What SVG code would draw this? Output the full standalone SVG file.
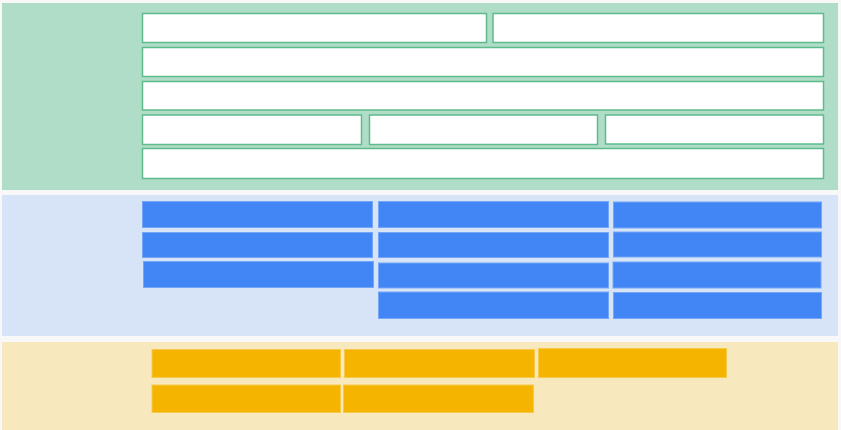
<svg xmlns="http://www.w3.org/2000/svg" width="841" height="430" viewBox="0 0 841 430">
  <style>
    .band-green { fill: #b0ddc8; }
    .band-blue { fill: #d7e4f7; }
    .band-yellow { fill: #f8e8be; }
    .cell { fill: #ffffff; stroke: #5dbb8c; stroke-width: 1.5; }
    .blk-blue { fill: #4286f5; stroke: #74a6f7; stroke-width: 1; }
    .blk-yellow { fill: #f5b400; stroke: #f7c94a; stroke-width: 1; }
  </style>
  <rect x="0" y="0" width="841" height="430" fill="#f8f8f9"/>

  <!-- top band -->
  <g id="band-top">
    <rect class="band-green" x="2" y="3" width="836" height="187"/>
    <rect class="cell" x="142.5" y="13.5" width="344" height="29"/>
    <rect class="cell" x="493" y="13.5" width="330.5" height="29"/>
    <rect class="cell" x="142.5" y="47.5" width="681" height="29"/>
    <rect class="cell" x="142.5" y="81.5" width="681" height="28.5"/>
    <rect class="cell" x="142.5" y="115" width="219" height="29.5"/>
    <rect class="cell" x="369.5" y="115" width="228" height="29.5"/>
    <rect class="cell" x="605.5" y="115" width="218" height="29"/>
    <rect class="cell" x="142.5" y="148.5" width="681" height="30"/>
  </g>

  <!-- middle band -->
  <g id="band-middle">
    <rect class="band-blue" x="2" y="195" width="836" height="141"/>
    <rect class="blk-blue" x="142.5" y="201.5" width="230" height="26"/>
    <rect class="blk-blue" x="142.5" y="232.5" width="230" height="25"/>
    <rect class="blk-blue" x="143.5" y="261.5" width="230" height="26"/>
    <rect class="blk-blue" x="378.5" y="201.5" width="230" height="26"/>
    <rect class="blk-blue" x="378.5" y="232.5" width="230" height="25"/>
    <rect class="blk-blue" x="378.5" y="263" width="230" height="25"/>
    <rect class="blk-blue" x="378.5" y="292" width="230" height="26.5"/>
    <rect class="blk-blue" x="613.5" y="202" width="208" height="26"/>
    <rect class="blk-blue" x="613.5" y="232" width="208" height="25"/>
    <rect class="blk-blue" x="613" y="262" width="208" height="26"/>
    <rect class="blk-blue" x="613.5" y="292.5" width="208" height="26"/>
  </g>

  <!-- bottom band -->
  <g id="band-bottom">
    <rect class="band-yellow" x="2" y="342" width="836" height="88"/>
    <rect class="blk-yellow" x="152" y="349.5" width="188.5" height="28"/>
    <rect class="blk-yellow" x="344.5" y="349.5" width="190" height="28"/>
    <rect class="blk-yellow" x="538.5" y="348.5" width="188" height="29"/>
    <rect class="blk-yellow" x="152" y="385" width="188.5" height="27.5"/>
    <rect class="blk-yellow" x="343.5" y="385" width="190" height="27.5"/>
  </g>
</svg>
